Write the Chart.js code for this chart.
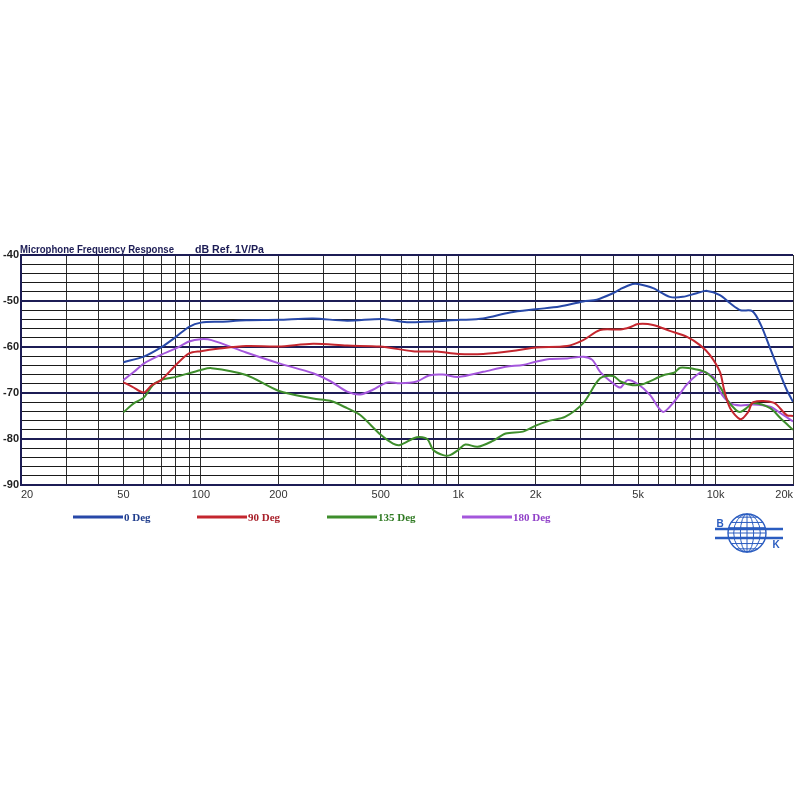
<!DOCTYPE html>
<html><head><meta charset="utf-8">
<script src="https://cdn.jsdelivr.net/npm/chart.js@4/dist/chart.umd.min.js"></script>
<style>html,body{margin:0;padding:0;background:#fff}#c{display:block}</style>
</head><body><canvas id="c" width="800" height="800"></canvas>
<script>
// ---- data ----
const chartTitle = 'Microphone Frequency Response';
const unitsLabel = 'dB Ref. 1V/Pa';
const seriesNames = ['0 Deg', '90 Deg', '135 Deg', '180 Deg'];
const xGridValues = [20,30,40,50,60,70,80,90,100,200,300,400,500,600,700,800,900,1000,2000,3000,4000,5000,6000,7000,8000,9000,10000,20000];
const xLabelValues = [20,50,100,200,500,1000,2000,5000,10000,20000];
const xLabelTexts = ['20','50','100','200','500','1k','2k','5k','10k','20k'];
const yMin = -90, yMax = -40;

const freq0 = [50,60,70,80,90,100,120,150,200,273,370,510,632,1020,1250,1590,2000,2480,3060,3460,4000,4270,4760,5000,5720,6640,7460,8450,9270,10400,11400,12500,13900,15000,16300,17900,18900,20000];
const deg0  = [-63.3,-62.1,-60.1,-57.8,-55.6,-54.7,-54.5,-54.2,-54.1,-53.8,-54.3,-53.9,-54.6,-54.1,-53.8,-52.5,-51.8,-51.2,-50.1,-49.7,-48.3,-47.4,-46.3,-46.3,-47.2,-49.1,-49.1,-48.3,-47.8,-48.7,-50.5,-52.0,-52.2,-55.2,-60.3,-66.1,-69.3,-71.9];

const freq90 = [50,54,60,64.5,70,80,90,100,116,150,200,273,370,496,666,828,1000,1250,1700,2000,2650,3060,3560,4270,4650,5000,5720,6640,7750,8700,9500,10400,10800,11400,12500,13400,14000,16800,18900,20000];
const deg90  = [-67.7,-68.6,-69.9,-68.3,-67.2,-63.9,-61.4,-60.9,-60.4,-59.8,-59.9,-59.3,-59.7,-59.9,-60.9,-61.0,-61.5,-61.5,-60.7,-60.1,-59.8,-58.5,-56.3,-56.2,-55.7,-55.0,-55.2,-56.5,-57.8,-59.6,-61.7,-65.4,-69.3,-73.3,-75.7,-74.1,-72.0,-72.1,-74.8,-75.0];

const freq135 = [50,55,60,65,70,80,100,110,150,200,273,318,370,416,500,558,594,690,758,800,874,930,1000,1066,1190,1365,1530,1785,2000,2270,2600,3060,3560,4000,4270,4760,5200,6300,6900,7300,8450,9270,10400,11100,12000,12500,13400,14000,16300,17900,20000];
const deg135  = [-74.2,-72.2,-71.0,-68.3,-67.2,-66.5,-65.0,-64.6,-66.1,-69.5,-71.2,-71.7,-73.3,-74.8,-79.1,-81.0,-81.3,-79.6,-80.0,-82.4,-83.5,-83.5,-82.4,-81.2,-81.7,-80.4,-78.8,-78.4,-77.1,-76.0,-75.2,-72.2,-66.8,-66.3,-67.5,-68.3,-68.1,-66.1,-65.6,-64.5,-64.9,-65.7,-68.6,-71.5,-73.7,-74.1,-73.0,-72.2,-73.3,-75.5,-78.0];

const freq180 = [50,55,60,70,80,90,100,110,150,200,273,320,370,416,466,530,594,690,770,870,1000,1250,1530,1785,2000,2270,2650,3060,3320,3560,4000,4270,4550,5000,5560,6240,6900,7700,8450,9000,9900,10400,11400,12500,14000,16300,17900,20000];
const deg180  = [-67.2,-65.4,-63.6,-61.7,-60.3,-58.8,-58.3,-58.5,-61.2,-63.5,-65.7,-67.5,-69.7,-70.3,-69.3,-67.7,-67.9,-67.5,-66.2,-66.0,-66.5,-65.4,-64.3,-63.9,-63.2,-62.6,-62.5,-62.1,-62.8,-65.4,-67.9,-68.8,-67.2,-68.1,-70.4,-74.1,-71.9,-68.3,-66.1,-65.4,-66.8,-69.7,-72.2,-72.7,-72.5,-73.0,-74.4,-76.2];

// ---- styling ----
const seriesColors = ['#2748a8', '#c4262e', '#3e8e2c', '#a456dc'];
const textColors   = ['#1f3c8c', '#a8202a', '#2f7a22', '#9040c8'];
const navy = '#1c1c55';

const pts = (f, v) => f.map((x, i) => ({x, y: v[i]}));
const seriesData = [pts(freq0, deg0), pts(freq90, deg90), pts(freq135, deg135), pts(freq180, deg180)];

const decorPlugin = {
  id: 'decor',
  afterDraw(chart) {
    const ctx = chart.ctx;
    const a = chart.chartArea;
    ctx.save();
    // title
    ctx.fillStyle = navy;
    ctx.font = 'bold 11px "Liberation Sans", Arial, sans-serif';
    ctx.textBaseline = 'alphabetic';
    ctx.textAlign = 'left';
    ctx.fillText(chartTitle, a.left - 1, a.top - 2, 154);
    ctx.fillText(unitsLabel, a.left + 174, a.top - 2, 69);
    // legend
    const legendX = [73, 197, 327, 462];
    const legendY = 517;
    chart.data.datasets.forEach((ds, i) => {
      const x = legendX[i];
      ctx.strokeStyle = ds.borderColor;
      ctx.lineWidth = 3;
      ctx.beginPath();
      ctx.moveTo(x, legendY);
      ctx.lineTo(x + 50, legendY);
      ctx.stroke();
      ctx.fillStyle = textColors[i];
      ctx.font = 'bold 11px "Liberation Serif", "Times New Roman", serif';
      ctx.textBaseline = 'middle';
      ctx.fillText(ds.label, x + 51, legendY + 1);
    });
    // logo (globe with B K)
    const cx = 747, cy = 533, r = 19;
    ctx.strokeStyle = '#2a5cc0';
    ctx.lineWidth = 1.4;
    ctx.beginPath(); ctx.arc(cx, cy, r, 0, Math.PI * 2); ctx.stroke();
    ctx.lineWidth = 1;
    [0.35, 0.7].forEach(k => {
      ctx.beginPath(); ctx.ellipse(cx, cy, r * k, r, 0, 0, Math.PI * 2); ctx.stroke();
    });
    ctx.beginPath(); ctx.moveTo(cx, cy - r); ctx.lineTo(cx, cy + r); ctx.stroke();
    for (let k = -3; k <= 3; k++) {
      const yy = cy + k * r / 3.6;
      const hw = Math.sqrt(Math.max(0, r * r - (yy - cy) * (yy - cy)));
      ctx.beginPath(); ctx.moveTo(cx - hw, yy); ctx.lineTo(cx + hw, yy); ctx.stroke();
    }
    ctx.lineWidth = 2.5;
    ctx.beginPath(); ctx.moveTo(715, 529); ctx.lineTo(783, 529); ctx.stroke();
    ctx.beginPath(); ctx.moveTo(715, 538); ctx.lineTo(783, 538); ctx.stroke();
    ctx.fillStyle = '#2a5cc0';
    ctx.font = 'bold 10px "Liberation Sans", Arial, sans-serif';
    ctx.textAlign = 'center';
    ctx.textBaseline = 'alphabetic';
    ctx.fillText('B', 720, 527);
    ctx.fillText('K', 776, 548);
    ctx.restore();
  }
};

new Chart(document.getElementById('c'), {
  type: 'line',
  data: {
    datasets: seriesNames.map((name, i) => ({
      label: name,
      data: seriesData[i],
      borderColor: seriesColors[i],
      backgroundColor: seriesColors[i],
      borderWidth: 2,
      pointRadius: 0,
      tension: 0.3,
      fill: false
    }))
  },
  options: {
    responsive: false,
    animation: false,
    devicePixelRatio: 1,
    layout: { padding: { top: 255, right: 7, bottom: 295, left: 0 } },
    plugins: { legend: { display: false }, tooltip: { enabled: false }, title: { display: false } },
    scales: {
      x: {
        type: 'logarithmic',
        min: 20, max: 20000,
        afterBuildTicks(scale) { scale.ticks = xGridValues.map(v => ({ value: v })); },
        afterFit(scale) { scale.height = 20; },
        ticks: {
          autoSkip: false, maxRotation: 0, minRotation: 0, align: 'inner', padding: 3,
          color: '#333',
          font: { family: '"Liberation Sans", Arial, sans-serif', size: 11 },
          callback(value) { const k = xLabelValues.indexOf(value); return k >= 0 ? xLabelTexts[k] : ''; }
        },
        grid: { color: '#2e2e2e', lineWidth: 1, drawTicks: false },
        border: { display: true, color: navy, width: 2 }
      },
      y: {
        min: yMin, max: yMax,
        afterFit(scale) { scale.width = 21; },
        ticks: {
          stepSize: 2, autoSkip: false, padding: 2,
          color: '#222',
          font: { family: '"Liberation Sans", Arial, sans-serif', size: 11, weight: 'bold' },
          callback(value) { return value % 10 === 0 ? String(value) : ''; }
        },
        grid: {
          drawTicks: false,
          color: ctx => (ctx.tick && ctx.tick.value % 10 === 0) ? navy : '#1a1a1a',
          lineWidth: ctx => (ctx.tick && ctx.tick.value % 10 === 0) ? 2 : 1
        },
        border: { display: true, color: navy, width: 2 }
      }
    }
  },
  plugins: [decorPlugin]
});
</script>
</body></html>
